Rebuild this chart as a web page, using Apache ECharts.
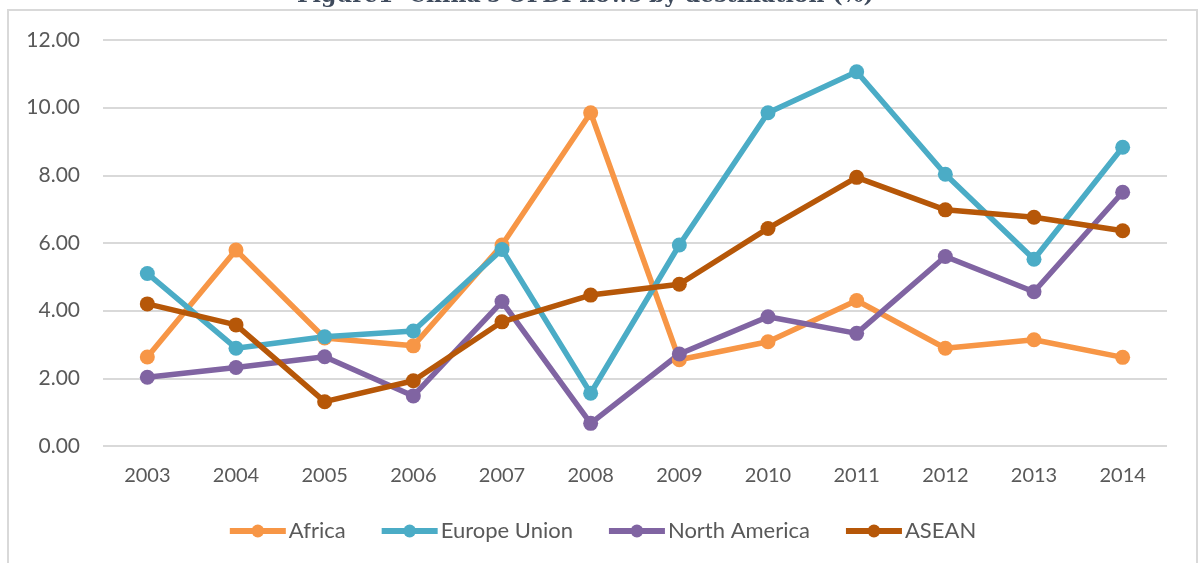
<!DOCTYPE html>
<html>
<head>
<meta charset="utf-8">
<script src="https://cdn.jsdelivr.net/npm/echarts@6/dist/echarts.min.js"></script>
<style>
  html, body { margin: 0; padding: 0; background: #fff; }
  #chart { width: 1203px; height: 563px; }
</style>
</head>
<body>
<div id="chart"></div>
<script>
const years = ['2003', '2004', '2005', '2006', '2007', '2008', '2009', '2010', '2011', '2012', '2013', '2014']
const africa = [2.63, 5.79, 3.19, 2.96, 5.94, 9.85, 2.55, 3.08, 4.30, 2.89, 3.14, 2.62]
const europeUnion = [5.10, 2.89, 3.23, 3.40, 5.81, 1.56, 5.94, 9.85, 11.06, 8.03, 5.52, 8.83]
const northAmerica = [2.03, 2.32, 2.64, 1.48, 4.27, 0.67, 2.72, 3.82, 3.33, 5.60, 4.56, 7.50]
const asean = [4.20, 3.58, 1.31, 1.93, 3.67, 4.46, 4.78, 6.43, 7.94, 6.98, 6.76, 6.36]

const chart = echarts.init(document.getElementById('chart'))

const lineSeries = (name, data, color) => ({
  type: 'line',
  name: name,
  data: data,
  symbol: 'circle',
  symbolSize: 15,
  lineStyle: { width: 5.5, color: color },
  itemStyle: { color: color },
  animation: false
})

const option = {
  textStyle: { fontFamily: 'Lato' },
  graphic: [
    {
      type: 'rect',
      shape: { x: 8, y: 10, width: 1189, height: 560 },
      style: { fill: 'none', stroke: '#d9d9d9', lineWidth: 2 },
      silent: true
    },
    {
      type: 'text',
      left: 297,
      top: -15,
      style: {
        text: "Figure1  China's OFDI flows by destination (%)",
        font: 'bold 22px "DejaVu Serif"',
        fill: '#3e4a5c'
      }
    }
  ],
  grid: { left: 103, right: 36, top: 40, bottom: 117 },
  legend: {
    top: 515,
    left: 'center',
    itemWidth: 56,
    itemHeight: 16,
    itemGap: 33,
    lineStyle: { width: 6 },
    textStyle: { fontSize: 22, color: '#595959', fontFamily: 'Lato', padding: [0, 0, 0, -2] },
    data: ['Africa', 'Europe Union', 'North America', 'ASEAN']
  },
  xAxis: {
    type: 'category',
    data: years,
    boundaryGap: true,
    axisLine: { show: false },
    axisTick: { show: false },
    axisLabel: { fontSize: 20, color: '#595959', margin: 20 }
  },
  yAxis: {
    type: 'value',
    min: 0,
    max: 12,
    interval: 2,
    axisLine: { show: false },
    axisTick: { show: false },
    axisLabel: {
      fontSize: 21,
      color: '#595959',
      margin: 23,
      formatter: v => v.toFixed(2)
    },
    splitLine: { lineStyle: { color: '#d9d9d9', width: 2 } }
  },
  series: [
    lineSeries('Africa', africa, '#f79646'),
    lineSeries('Europe Union', europeUnion, '#4bacc6'),
    lineSeries('North America', northAmerica, '#8064a2'),
    lineSeries('ASEAN', asean, '#b65708')
  ]
}

chart.setOption(option)
</script>
</body>
</html>
